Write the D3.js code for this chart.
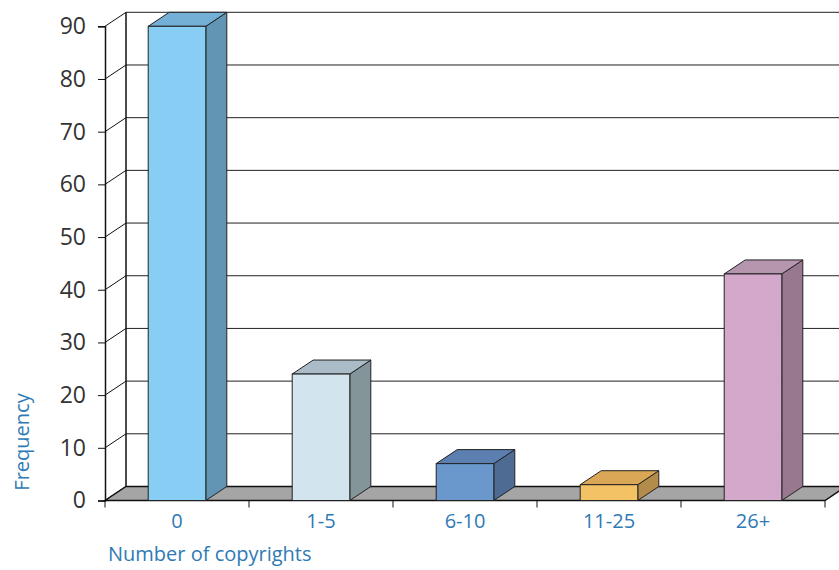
<!DOCTYPE html>
<html>
<head>
  <meta charset="utf-8">
  <title>Number of copyrights</title>
  <script src="https://d3js.org/d3.v7.min.js"></script>
  <style>
    body { margin: 0; background: #fff; }
    text { font-family: "Open Sans", sans-serif; }
  </style>
</head>
<body>
<script>
  const categories = ["0", "1-5", "6-10", "11-25", "26+"];
  const frequency = [90, 24, 7, 3, 43];
  const yTicks = [0, 10, 20, 30, 40, 50, 60, 70, 80, 90];
  const frontColors = ["#88cdf3", "#d2e4ee", "#6a97cc", "#f3c265", "#d3a8cb"];
  const sideColors = ["#6295b3", "#84959a", "#4e6b94", "#b38c4b", "#98788f"];
  const topColors = ["#74b0d6", "#a9bcc8", "#5b7fb0", "#d9a756", "#b695af"];

  const width = 839, height = 570;
  const dx = 21, dy = -14;   // depth of the 3d box
  const blue = "#2f7ab4";

  const svg = d3.select("body").append("svg")
    .attr("width", width)
    .attr("height", height);

  const x = d3.scaleBand()
    .domain(categories)
    .range([105, 825]);

  const y = d3.scaleLinear()
    .domain([0, 90])
    .range([500.5, 26.3]);

  const barW = x.bandwidth() * 0.4;

  // back wall grid lines
  svg.append("g")
    .selectAll("line")
    .data(yTicks.filter(d => d > 0))
    .join("line")
      .attr("x1", 105 + dx).attr("x2", width)
      .attr("y1", d => y(d) + dy).attr("y2", d => y(d) + dy)
      .attr("stroke", "#222").attr("stroke-width", 1);

  // left wall
  svg.append("line")
    .attr("x1", 105 + dx).attr("x2", 105 + dx)
    .attr("y1", y(90) + dy).attr("y2", y(0) + dy)
    .attr("stroke", "#111").attr("stroke-width", 1.5);

  svg.append("g")
    .selectAll("line")
    .data(yTicks)
    .join("line")
      .attr("x1", 105).attr("x2", 105 + dx)
      .attr("y1", d => y(d)).attr("y2", d => y(d) + dy)
      .attr("stroke", "#111").attr("stroke-width", 1);

  // floor
  const x0 = x.range()[0], x1 = x.range()[1];
  svg.append("path")
    .attr("d", `M${x0},${y(0)}L${x1},${y(0)}L${x1 + dx},${y(0) + dy}L${x0 + dx},${y(0) + dy}Z`)
    .attr("fill", "#a5a5a5")
    .attr("stroke", "#111")
    .attr("stroke-width", 1.5);

  // bars
  const bars = svg.append("g")
    .selectAll("g")
    .data(categories.map((c, i) => ({c, v: frequency[i], i})))
    .join("g");

  const bx = d => x(d.c) + (x.bandwidth() - barW) / 2;

  bars.append("path")
    .attr("d", d => `M${bx(d) + barW},${y(d.v)}L${bx(d) + barW + dx},${y(d.v) + dy}L${bx(d) + barW + dx},${y(0) + dy}L${bx(d) + barW},${y(0)}Z`)
    .attr("fill", d => sideColors[d.i])
    .attr("stroke", "#222").attr("stroke-width", 1).attr("stroke-linejoin", "round");

  bars.append("path")
    .attr("d", d => `M${bx(d)},${y(d.v)}L${bx(d) + dx},${y(d.v) + dy}L${bx(d) + barW + dx},${y(d.v) + dy}L${bx(d) + barW},${y(d.v)}Z`)
    .attr("fill", d => topColors[d.i])
    .attr("stroke", "#222").attr("stroke-width", 1).attr("stroke-linejoin", "round");

  bars.append("rect")
    .attr("x", bx)
    .attr("y", d => y(d.v))
    .attr("width", barW)
    .attr("height", d => y(0) - y(d.v))
    .attr("fill", d => frontColors[d.i])
    .attr("stroke", "#222").attr("stroke-width", 1);

  // y axis
  const yAxis = svg.append("g")
    .attr("transform", "translate(105,0)")
    .call(d3.axisLeft(y).tickValues(yTicks).tickSize(7).tickPadding(12));
  yAxis.select(".domain").attr("stroke", "#111").attr("stroke-width", 1.5);
  yAxis.selectAll(".tick line").attr("stroke", "#111");
  yAxis.selectAll(".tick text")
    .attr("fill", "#333")
    .style("font-size", "23px")
    .style("font-family", "'Open Sans', sans-serif");

  // x axis
  const xAxis = svg.append("g")
    .attr("transform", `translate(0,${y(0)})`)
    .call(d3.axisBottom(x).tickSize(0).tickPadding(13));
  xAxis.select(".domain").remove();
  xAxis.selectAll(".tick text")
    .attr("fill", blue)
    .style("font-size", "20px")
    .style("font-family", "'Open Sans', sans-serif");

  svg.append("g")
    .selectAll("line")
    .data(d3.range(categories.length + 1))
    .join("line")
      .attr("x1", i => x0 + i * x.step()).attr("x2", i => x0 + i * x.step())
      .attr("y1", y(0)).attr("y2", y(0) + 7)
      .attr("stroke", "#111");

  // titles
  svg.append("text")
    .attr("x", 108).attr("y", 561)
    .attr("fill", blue)
    .style("font-size", "20px")
    .text("Number of copyrights");

  svg.append("text")
    .attr("transform", "translate(29,442) rotate(-90)")
    .attr("text-anchor", "middle")
    .attr("fill", blue)
    .style("font-size", "20px")
    .text("Frequency");
</script>
</body>
</html>
